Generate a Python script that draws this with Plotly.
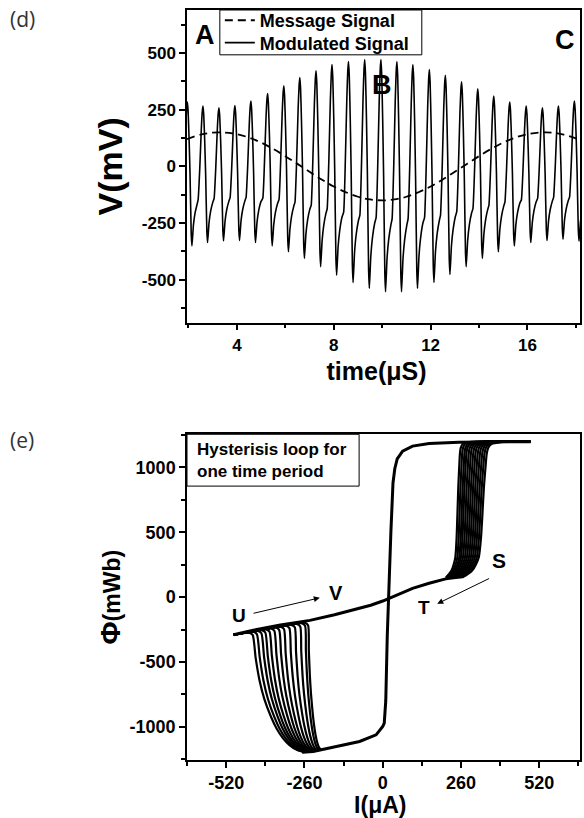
import numpy as np
import plotly.graph_objects as go

# ---------------- Panel (d): message & modulated signals ----------------
msg_time_us = [1.94, 2.5, 3.0, 3.5, 4.0, 4.5, 5.0, 5.5, 6.0, 6.5, 7.0, 7.5, 8.0, 8.5, 9.0,
               9.5, 10.0, 10.5, 11.0, 11.5, 12.0, 12.5, 13.0, 13.5, 14.0, 14.5, 15.0,
               15.5, 16.0, 16.5, 17.0, 17.5, 18.0, 18.17]
msg_mV = [120, 140, 149, 149, 142, 127, 105, 77, 45, 11, -24, -58, -89, -114, -134,
          -146, -150, -146, -134, -114, -89, -58, -24, 11, 45, 77, 105,
          127, 142, 149, 149, 140, 123, 116]

peak_time_us = [1.955, 2.60, 3.26, 3.92, 4.58, 5.27, 5.94, 6.60, 7.27, 7.93, 8.61, 9.28,
                9.95, 10.61, 11.27, 11.95, 12.61, 13.28, 13.95, 14.61, 15.27, 15.95,
                16.62, 17.28, 17.94]
peak_mV = [284, 266, 259, 268, 288, 321, 356, 392, 422, 449, 463, 471, 471, 463, 449,
           427, 402, 373, 342, 310, 284, 266, 259, 266, 288]
trough_mV = [-351, -336, -329, -327, -336, -351, -377, -406, -443, -480, -513, -538,
             -553, -553, -538, -512, -477, -443, -406, -377, -351, -336, -327, -322, -330]
shoulder_mV = [-147, -141, -138, -137, -141, -147, -158, -171, -186, -202, -215, -226,
               -232, -232, -226, -215, -200, -186, -171, -158, -147, -141, -137, -135, -139]

v_ticks = [-500, -250, 0, 250, 500]
v_ticktext = ["-500", "-250", "0", "250", "500"]
t_ticks = [4, 8, 12, 16]

# ---------------- Panel (e): hysteresis loop ----------------
diag_I = [-495, -430, -340, -242, -160, -99, -40, 0, 40, 99, 154, 209, 262]
diag_phi = [-290, -255, -215, -179, -135, -100, -62, -30, 12, 68, 107, 141, 158]

upper_I = [490, 400, 253, 154, 99, 66, 48, 40, 34, 27, 19, 15, 10, 5, 0, -22, -77,
           -154, -200, -231, -268]
upper_phi = [1198, 1198, 1194, 1184, 1164, 1125, 1065, 990, 880, 500, 0, -300, -800,
             -970, -997, -1061, -1112, -1150, -1172, -1189, -1196]

left_branch_I = [-432, -418, -403, -390, -376, -360, -344, -328, -310, -292, -274, -258, -248]
left_branch_join_I = [-262, -258, -254, -250, -246, -242, -238, -234, -229, -224, -218, -212, -206]
left_profile_s = [0, 0.2, 0.4, 0.55, 0.7, 0.8, 0.88, 0.94, 0.98, 1.0]
left_profile_off = [0, 0.06, 0.14, 0.23, 0.36, 0.47, 0.59, 0.72, 0.86, 1.0]

right_branch_I = [248, 255, 262, 268, 275, 282, 289, 296, 303, 310, 317, 324, 331]
right_branch_scale = [0.58, 0.61, 0.65, 0.68, 0.72, 0.75, 0.79, 0.82, 0.86, 0.89, 0.93, 0.96, 1.0]
right_profile_phi = [150, 175, 205, 250, 307, 450, 640, 850, 1023, 1100, 1150, 1180, 1195]
right_profile_off = [-67, -50, -34, -22, -12, -5, 0, 5, 11, 14, 19, 30, 60]

phi_ticks = [-1000, -500, 0, 500, 1000]
phi_ticktext = ["-1000", "-500", "0", "500", "1000"]
i_ticks = [-520, -260, 0, 260, 520]
i_ticktext = ["-520", "-260", "0", "260", "520"]

# ---------------- build modulated waveform ----------------
mod_t, mod_v = [], []
n = len(peak_time_us)
P0, S0 = peak_mV[0], shoulder_mV[0]
mod_t += [peak_time_us[0] - 0.07, peak_time_us[0] - 0.03]
mod_v += [P0 - 0.25 * (P0 - S0), P0 - 0.06 * (P0 - S0)]
for k in range(n):
    tp, P, T, S = peak_time_us[k], peak_mV[k], trough_mV[k], shoulder_mV[k]
    mod_t += [tp, tp + 0.03, tp + 0.07, tp + 0.11, tp + 0.16, tp + 0.19]
    mod_v += [P, P - 0.06 * (P - T), P - 0.25 * (P - T), T + 0.5 * (P - T),
              T + 0.08 * (P - T), T]
    tt = tp + 0.19
    if k < n - 1:
        tn, Pn = peak_time_us[k + 1], peak_mV[k + 1]
        mod_t += [tt + 0.06, tt + 0.13, tt + 0.22, tn - 0.20, tn - 0.13, tn - 0.07, tn - 0.03]
        mod_v += [T + 0.45 * (S - T), T + 0.72 * (S - T), T + 0.92 * (S - T), S,
                  S + 0.35 * (Pn - S), Pn - 0.25 * (Pn - S), Pn - 0.06 * (Pn - S)]
    else:
        mod_t += [tt + 0.06, tt + 0.13]
        mod_v += [T + 0.45 * (S - T), T + 0.72 * (S - T)]

# ---------------- build hysteresis curves ----------------
uI_rev, uP_rev = upper_I[::-1], upper_phi[::-1]
shared_x = list(upper_I) + [None] + list(diag_I)
shared_y = list(upper_phi) + [None] + list(diag_phi)

left_x, left_y = [], []
for Ik, Jk in zip(left_branch_I, left_branch_join_I):
    phi_top = float(np.interp(Ik, diag_I, diag_phi)) - 35
    phi_J = float(np.interp(Jk, uI_rev, uP_rev))
    for s, off in zip(left_profile_s[::-1], left_profile_off[::-1]):
        left_x.append(Ik + off * (Jk - Ik))
        left_y.append(phi_top + s * (phi_J - phi_top))
    left_x.append(Ik - 12)
    left_y.append(float(np.interp(Ik - 12, diag_I, diag_phi)) - 12)
    for dI, dP in list(zip(diag_I, diag_phi))[::-1]:
        if dI < Ik - 12:
            left_x.append(dI)
            left_y.append(dP - (8 if dI > diag_I[0] else 0))
    left_x.append(None)
    left_y.append(None)

right_x, right_y = [], []
for Rk, ck in zip(right_branch_I, right_branch_scale):
    for ph, off in zip(right_profile_phi, right_profile_off):
        right_x.append(Rk + ck * off)
        right_y.append(ph)
    right_x += [430, 490, None]
    right_y += [1198, 1198, None]

# ---------------- figure ----------------
FONT = "Liberation Sans, Arial, sans-serif"
L, R, T_, B = 187, 582, 7, 760
W, H = 584, 818


def px(x):
    return (x - L) / (R - L)


def py(y):
    return (B - y) / (B - T_)


fig = go.Figure()
fig.add_trace(go.Scatter(x=msg_time_us, y=msg_mV, mode="lines", name="Message Signal",
                         line=dict(color="black", width=1.8, dash="8px,5px", shape="spline"),
                         xaxis="x", yaxis="y", legend="legend"))
fig.add_trace(go.Scatter(x=mod_t, y=mod_v, mode="lines", name="Modulated Signal",
                         line=dict(color="black", width=1.6, shape="spline", smoothing=0.4),
                         xaxis="x", yaxis="y", legend="legend2"))
fig.add_trace(go.Scatter(x=shared_x, y=shared_y, mode="lines", showlegend=False,
                         line=dict(color="black", width=3), xaxis="x2", yaxis="y2"))
fig.add_trace(go.Scatter(x=left_x, y=left_y, mode="lines", showlegend=False,
                         line=dict(color="black", width=2.2, shape="spline", smoothing=0.6),
                         xaxis="x2", yaxis="y2"))
fig.add_trace(go.Scatter(x=right_x, y=right_y, mode="lines", showlegend=False,
                         line=dict(color="black", width=2.2, shape="spline", smoothing=0.6),
                         xaxis="x2", yaxis="y2"))


def axis_style(size, **kw):
    d = dict(showline=True, linecolor="black", linewidth=1.5, mirror=True,
             ticks="outside", ticklen=6, tickwidth=1.5, tickcolor="black",
             showgrid=False, zeroline=False,
             tickfont=dict(family=FONT, size=size, color="black", weight="bold"))
    d.update(kw)
    return d


def minor(vals):
    return dict(tickvals=vals, ticks="outside", ticklen=4, tickwidth=1.5,
                tickcolor="black", showgrid=False)


def legend_at(top_px):
    return dict(x=px(220), y=py(top_px), xanchor="left", yanchor="top",
                bgcolor="rgba(0,0,0,0)", borderwidth=0,
                font=dict(family=FONT, size=18, color="black", weight="bold"),
                itemwidth=30, tracegroupgap=0)


top_lo = py(321)
bot_hi = py(433)

fig.update_layout(
    width=W, height=H,
    margin=dict(l=L, r=W - R, t=T_, b=H - B),
    plot_bgcolor="white", paper_bgcolor="white",
    xaxis=axis_style(17, domain=[0, 1], range=[1.94, 18.17], anchor="y",
                     tickvals=t_ticks, minor=minor([2, 6, 10, 14, 18]),
                     title=dict(text="time(μS)&nbsp;&nbsp;", standoff=9,
                                font=dict(family=FONT, size=25, color="black", weight="bold"))),
    yaxis=axis_style(17, domain=[top_lo, 1], range=[-690, 690], anchor="x",
                     tickvals=v_ticks, ticktext=v_ticktext,
                     minor=minor([-625, -375, -125, 125, 375, 625]),
                     title=dict(text="V(mV)", standoff=9,
                                font=dict(family=FONT, size=34, color="black", weight="bold"))),
    xaxis2=axis_style(18, domain=[0, 1], range=[-650, 655], anchor="y2",
                      tickvals=i_ticks, ticktext=i_ticktext,
                      minor=minor([-650, -390, -130, 130, 390, 650]),
                      title=dict(text="I(μA)&nbsp;", standoff=2,
                                 font=dict(family=FONT, size=23, color="black", weight="bold"))),
    yaxis2=axis_style(18, domain=[0, bot_hi], range=[-1255, 1255], anchor="x2",
                      tickvals=phi_ticks, ticktext=phi_ticktext,
                      minor=minor([-1250, -750, -250, 250, 750, 1250]),
                      title=dict(text="Φ<span style='font-size:23px'>(mWb)</span>", standoff=1,
                                 font=dict(family=FONT, size=28, color="black", weight="bold"))),
    legend=legend_at(-1),
    legend2=legend_at(21.5),
    showlegend=True,
)

# legend frame
fig.add_shape(type="rect", xref="paper", yref="paper", x0=px(220), x1=px(423),
              y0=py(52), y1=py(7), line=dict(color="black", width=1),
              fillcolor="white", layer="above")

ann = []
ann.append(dict(text="(d)", x=px(7), y=py(0), xanchor="left", yanchor="top", showarrow=False,
                font=dict(family="Open Sans", size=21, color="#333")))
ann.append(dict(text="(e)", x=px(7), y=py(423), xanchor="left", yanchor="top", showarrow=False,
                font=dict(family="Open Sans", size=21, color="#333")))
for txt, X, Y in [("A", 205, 32), ("B", 383, 82), ("C", 567, 37)]:
    ann.append(dict(text=txt, x=px(X), y=py(Y), xanchor="center", yanchor="middle",
                    showarrow=False, font=dict(family=FONT, size=27, color="black", weight="bold")))
for txt, X, Y, s in [("S", 501, 560, 21), ("T", 425, 607, 19), ("U", 239, 615, 19), ("V", 337, 592, 20)]:
    ann.append(dict(text=txt, x=px(X), y=py(Y), xanchor="center", yanchor="middle",
                    showarrow=False, font=dict(family=FONT, size=s, color="black", weight="bold")))
ann.append(dict(text="Hysterisis loop for<br>one time period", x=px(195), y=py(459),
                xanchor="left", yanchor="middle", align="left", showarrow=False,
                font=dict(family=FONT, size=17, color="black", weight="bold")))
for a in ann:
    a["xref"] = "paper"
    a["yref"] = "paper"
# arrows (data coordinates of the bottom panel)
ann.append(dict(text="", x=-209, y=-5, ax=-434, ay=-127, xref="x2", yref="y2",
                axref="x2", ayref="y2", showarrow=True, arrowhead=2, arrowsize=1.2,
                arrowwidth=1, arrowcolor="black"))
ann.append(dict(text="", x=181, y=-51, ax=358, ay=149, xref="x2", yref="y2",
                axref="x2", ayref="y2", showarrow=True, arrowhead=2, arrowsize=1.2,
                arrowwidth=1, arrowcolor="black"))
fig.update_layout(annotations=ann)
fig.add_shape(type="rect", xref="paper", yref="paper", x0=px(187), x1=px(360),
              y0=py(485), y1=py(433), line=dict(color="black", width=1),
              fillcolor="rgba(0,0,0,0)")

fig.write_html("out.html")
